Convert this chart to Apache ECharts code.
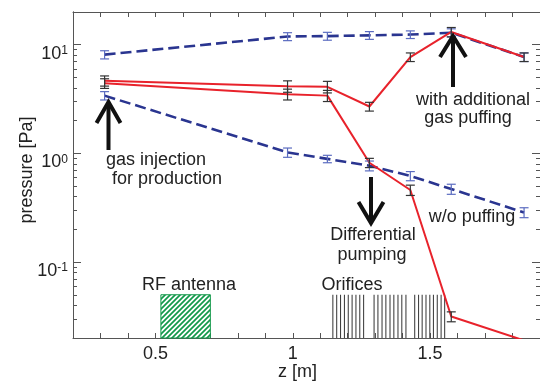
<!DOCTYPE html>
<html>
<head>
<meta charset="utf-8">
<script src="https://cdn.jsdelivr.net/npm/echarts@6/dist/echarts.min.js"></script>
<style>
html, body { margin: 0; padding: 0; background: #fff; }
#main { width: 540px; height: 386px; }
</style>
</head>
<body>
<div id="main"></div>
<script>
// z positions of the measurement ports [m]
var zPos = [0.315, 0.981, 1.126, 1.279, 1.428, 1.577, 1.842];

// pressure [Pa] and error bars
var bluePuff = [8.1, 11.9, 12.0, 12.2, 12.4, 12.9, 7.7];
var bluePuffErr = [0.7, 1.0, 1.0, 1.0, 1.0, 1.1, 0.7];
var redPuff = [4.66, 4.15, 4.1, 2.7, 7.7, 13.1, 7.7];
var redPuffErr = [0.5, 0.5, 0.5, 0.25, 0.7, 1.3, 0.7];
var redNoPuff = [4.41, 3.5, 3.4, 0.82, 0.46, 0.0315, 0.019];
var redNoPuffErr = [0.45, 0.4, 0.4, 0.08, 0.05, 0.0033, 0];
var blueNoPuff = [3.4, 1.02, 0.89, 0.77, 0.62, 0.47, 0.286];
var blueNoPuffErr = [0.3, 0.1, 0.07, 0.08, 0.06, 0.05, 0.03];

// RF antenna and orifice plates
var antenna = [0.52, 0.70];
var orificeZ = [1.146, 1.160, 1.174, 1.188, 1.202, 1.216, 1.230, 1.244, 1.258,
                1.296, 1.310, 1.325, 1.339, 1.354, 1.368, 1.383, 1.397, 1.412,
                1.444, 1.458, 1.471, 1.485, 1.499, 1.512, 1.526, 1.540, 1.553];
var markTop = 0.05;

// axis ticks
var xLabels = [0.5, 1, 1.5];
var yMajor = [0.1, 1, 10];
var yMinor = [0.03, 0.04, 0.05, 0.06, 0.07, 0.08, 0.09,
              0.2, 0.3, 0.4, 0.5, 0.6, 0.7, 0.8, 0.9,
              2, 3, 4, 5, 6, 7, 8, 9];
var yRange = [0.02, 20];

var L = function (v) { return Math.log10(v); };
var yMin = L(yRange[0]), yMax = L(yRange[1]);
var font = 'Liberation Sans, Arial, Helvetica, sans-serif';
var axisColor = '#555';

var chart = echarts.init(document.getElementById('main'));

var lineSeries = function (vals, color, type, width) {
    return {
        type: 'line',
        data: zPos.map(function (z, i) { return [z, L(vals[i])]; }),
        symbol: 'none',
        clip: true,
        z: 3,
        lineStyle: {color: color, type: type, width: width}
    };
};

var errSeries = function (vals, errs, color) {
    var data = [];
    zPos.forEach(function (z, i) {
        if (errs[i]) data.push([z, L(vals[i] - errs[i]), L(vals[i] + errs[i])]);
    });
    return {
        type: 'custom',
        data: data,
        z: 4,
        encode: {x: 0, y: [1, 2]},
        renderItem: function (params, api) {
            var a = api.coord([api.value(0), api.value(1)]);
            var b = api.coord([api.value(0), api.value(2)]);
            var w = 4.5;
            var st = {stroke: color, lineWidth: 1.2};
            return {
                type: 'group',
                children: [
                    {type: 'line', shape: {x1: a[0], y1: a[1], x2: b[0], y2: b[1]}, style: st},
                    {type: 'line', shape: {x1: a[0] - w, y1: a[1], x2: a[0] + w, y2: a[1]}, style: st},
                    {type: 'line', shape: {x1: b[0] - w, y1: b[1], x2: b[0] + w, y2: b[1]}, style: st}
                ]
            };
        }
    };
};

// hatch for the antenna box
var pat = document.createElement('canvas');
pat.width = 5;
pat.height = 5;
var ctx = pat.getContext('2d');
ctx.fillStyle = '#fff';
ctx.fillRect(0, 0, 5, 5);
ctx.strokeStyle = '#12994a';
ctx.lineWidth = 1.7;
ctx.beginPath();
ctx.moveTo(-1, 6); ctx.lineTo(6, -1);
ctx.moveTo(-2, 2); ctx.lineTo(2, -2);
ctx.moveTo(3, 7); ctx.lineTo(7, 3);
ctx.stroke();

var yLabelFmt = function (v) {
    return '{b|10}{s|' + Math.round(v) + '}';
};

var yAxisBase = function (pos, ticks, len, labels) {
    return {
        type: 'value',
        position: pos,
        min: yMin,
        max: yMax,
        splitLine: {show: false},
        axisLine: {show: true, onZero: false, lineStyle: {color: axisColor, width: 1}},
        axisTick: {show: true, inside: true, length: len, customValues: ticks.map(L),
            lineStyle: {color: axisColor}},
        axisLabel: labels ? {
            customValues: yMajor.map(L),
            formatter: yLabelFmt,
            margin: 5,
            padding: [18, 0, 0, 0],
            rich: {
                b: {fontSize: 18, fontFamily: font, color: '#222', lineHeight: 18},
                s: {fontSize: 12, fontFamily: font, color: '#222', lineHeight: 12, verticalAlign: 'top'}
            }
        } : {show: false}
    };
};

var xAxisBase = function (pos, labels) {
    return {
        type: 'value',
        position: pos,
        min: 0.2,
        max: 1.9,
        interval: 0.1,
        splitLine: {show: false},
        axisLine: {show: true, onZero: false, lineStyle: {color: axisColor, width: 1}},
        axisTick: {show: true, inside: true, length: 5, lineStyle: {color: axisColor}},
        axisLabel: labels ? {
            customValues: xLabels,
            fontSize: 18,
            fontFamily: font,
            color: '#222',
            margin: 7
        } : {show: false}
    };
};

var xBottom = xAxisBase('bottom', true);
xBottom.name = 'z [m]';
xBottom.nameLocation = 'middle';
xBottom.nameGap = 25;
xBottom.nameMoveOverlap = false;
xBottom.nameTextStyle = {fontSize: 18, fontFamily: font, color: '#222', padding: [0, 18, 0, 0]};

var yLeft = yAxisBase('left', yMajor, 8, true);
yLeft.name = 'pressure [Pa]';
yLeft.nameLocation = 'middle';
yLeft.nameGap = 37;
yLeft.nameMoveOverlap = false;
yLeft.nameTextStyle = {fontSize: 18, fontFamily: font, color: '#222', padding: [0, 0, 0, 10]};

var option = {
    animation: false,
    backgroundColor: '#fff',
    grid: {left: 73, top: 12, width: 469, height: 327},
    xAxis: [xBottom, xAxisBase('top', false)],
    yAxis: [
        yLeft,
        yAxisBase('left', yMinor, 4, false),
        yAxisBase('right', yMajor, 8, false),
        yAxisBase('right', yMinor, 4, false)
    ],
    series: [
        {
            type: 'custom',
            data: [antenna],
            z: 1,
            renderItem: function (params, api) {
                var a = api.coord([api.value(0), yMin]);
                var b = api.coord([api.value(1), L(markTop)]);
                return {
                    type: 'rect',
                    shape: {x: a[0], y: b[1], width: b[0] - a[0], height: a[1] - b[1]},
                    style: {fill: {image: pat, repeat: 'repeat'}, stroke: '#12994a', lineWidth: 1}
                };
            }
        },
        {
            type: 'custom',
            data: orificeZ.map(function (z) { return [z]; }),
            z: 1,
            renderItem: function (params, api) {
                var a = api.coord([api.value(0), yMin]);
                var b = api.coord([api.value(0), L(markTop)]);
                return {
                    type: 'line',
                    shape: {x1: a[0], y1: a[1], x2: b[0], y2: b[1]},
                    style: {stroke: '#333', lineWidth: 1}
                };
            }
        },
        lineSeries(bluePuff, '#2a3590', [11, 5], 2.6),
        lineSeries(blueNoPuff, '#2a3590', [11, 5], 2.6),
        lineSeries(redPuff, '#e8222b', 'solid', 2),
        lineSeries(redNoPuff, '#e8222b', 'solid', 2),
        errSeries(bluePuff, bluePuffErr, '#5b6cc0'),
        errSeries(blueNoPuff, blueNoPuffErr, '#5b6cc0'),
        errSeries(redPuff, redPuffErr, '#333'),
        errSeries(redNoPuff, redNoPuffErr, '#333')
    ]
};
chart.setOption(option);

// annotations
var txt = function (text, x, y, align) {
    return {
        type: 'text', z: 10,
        style: {text: text, x: x, y: y, font: '18px ' + font, fill: '#222',
            align: align || 'center', verticalAlign: 'middle',
            textAlign: align || 'center', textVerticalAlign: 'middle'}
    };
};
var arrow = function (x, yTail, yTip, half) {
    var dir = yTip < yTail ? 1 : -1;
    var st = {stroke: '#111', lineWidth: 4, fill: null, lineJoin: 'miter'};
    return [
        {type: 'line', z: 10, shape: {x1: x, y1: yTail, x2: x, y2: yTip + dir * 2}, style: st},
        {type: 'polyline', z: 10, shape: {points: [[x - half, yTip + dir * 21], [x, yTip], [x + half, yTip + dir * 21]]}, style: st}
    ];
};

var graphics = [
    txt('gas injection', 156, 160),
    txt('for production', 167, 179),
    txt('Differential', 373, 235),
    txt('pumping', 372, 255),
    txt('w/o puffing', 472, 217),
    txt('with additional', 416, 100, 'left'),
    txt('gas puffing', 468, 118),
    txt('RF antenna', 189, 285),
    txt('Orifices', 352, 285)
];
graphics = graphics.concat(arrow(108.5, 150, 102, 12));
graphics = graphics.concat(arrow(453, 87, 36, 13));
graphics = graphics.concat(arrow(371, 177, 223, 12.5));

chart.setOption({graphic: graphics});
</script>
</body>
</html>
